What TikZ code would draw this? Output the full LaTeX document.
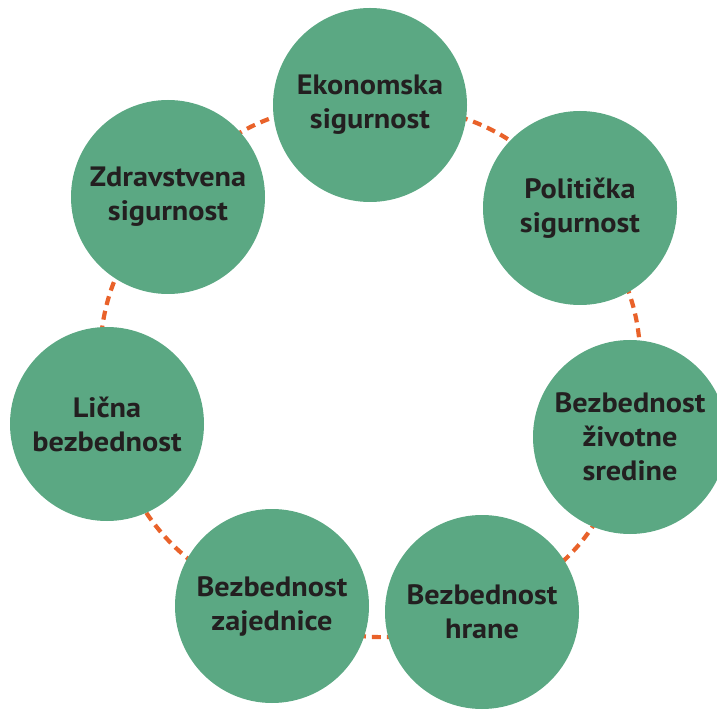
\documentclass[tikz,border=0pt]{standalone}
\usepackage{fontspec}
\setmainfont[FakeStretch=1.08]{PT Sans}
\usetikzlibrary{backgrounds}
\definecolor{cgreen}{HTML}{5BA883}
\definecolor{corange}{HTML}{E9622A}
\definecolor{ctext}{HTML}{231F20}
\begin{document}
\begin{tikzpicture}[x=1pt,y=1pt,
  bubble/.style={circle, fill=cgreen, minimum size=194pt, inner sep=0pt, align=center,
    text=ctext, font=\fontsize{28}{34}\selectfont\bfseries},
  ring/.style={draw=corange, line width=4.2pt, dash pattern=on 9pt off 6pt, bend left=25.7, looseness=1.05}]
\useasboundingbox (0,0) rectangle (717,710);
\node[bubble] (eko) at (370,605) {Ekonomska\\sigurnost};
\node[bubble] (pol) at (580,502) {Politička\\sigurnost};
\node[bubble] (ziv) at (630,273) {Bezbednost\\životne\\sredine};
\node[bubble] (hra) at (482,98) {Bezbednost\\hrane};
\node[bubble] (zaj) at (272,104) {Bezbednost\\zajednice};
\node[bubble] (lic) at (107,286) {Lična\\bezbednost};
\node[bubble] (zdr) at (168,513) {Zdravstvena\\sigurnost};
\begin{scope}[on background layer]
\draw[ring] (eko.center) to (pol.center);
\draw[ring] (pol.center) to (ziv.center);
\draw[ring] (ziv.center) to (hra.center);
\draw[ring] (hra.center) to (zaj.center);
\draw[ring] (zaj.center) to (lic.center);
\draw[ring] (lic.center) to (zdr.center);
\draw[ring] (zdr.center) to (eko.center);
\end{scope}
\end{tikzpicture}
\end{document}
